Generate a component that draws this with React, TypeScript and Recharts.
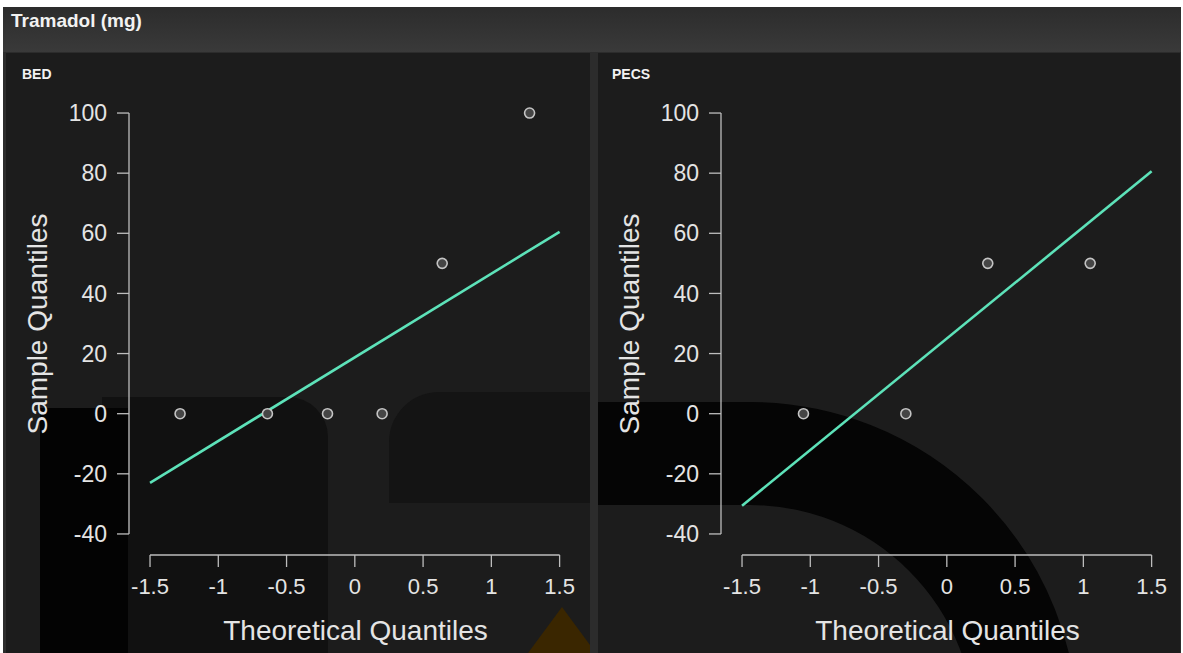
import React from 'react';
import { ComposedChart, Scatter, XAxis, YAxis, ReferenceLine, Label } from 'recharts';

// tick labels
const xTicks = [-1.5, -1, -0.5, 0, 0.5, 1, 1.5];
const yTicks = [-40, -20, 0, 20, 40, 60, 80, 100];

// BED panel
const bedTheoretical = [-1.28, -0.64, -0.2, 0.2, 0.64, 1.28];
const bedSample = [0, 0, 0, 0, 50, 100];
const bedLineX = [-1.5, 1.5];
const bedLineY = [-23, 60.5];

// PECS panel
const pecsTheoretical = [-1.05, -0.3, 0.3, 1.05];
const pecsSample = [0, 0, 50, 50];
const pecsLineX = [-1.5, 1.5];
const pecsLineY = [-30.6, 80.6];

const X_DOMAIN: [number, number] = [-1.654, 1.62];
const Y_DOMAIN: [number, number] = [-47, 105];

const FONT = '"Liberation Sans", Arial, sans-serif';
const TEXT = '#e4e4e4';
const AXIS = '#bdbdbd';
const LINE = '#5de2b9';

const toPoints = (xs: number[], ys: number[]) => xs.map((x, i) => ({ x, y: ys[i] }));

const Dot = (props: any) => (
  <circle cx={props.cx} cy={props.cy} r={5} fill="#454545" stroke="#c4c4c4" strokeWidth={1.6} />
);

function QQChart({ theo, sample, lineX, lineY }: { theo: number[]; sample: number[]; lineX: number[]; lineY: number[] }) {
  const points = toPoints(theo, sample);
  const line = toPoints(lineX, lineY);
  return (
    <ComposedChart width={600} height={653} margin={{ top: 98, right: 24, left: 0, bottom: 0 }}>
      <XAxis
        type="number"
        dataKey="x"
        domain={X_DOMAIN}
        ticks={xTicks}
        allowDataOverflow
        height={98}
        axisLine={false}
        tickLine={{ stroke: AXIS, strokeWidth: 1.3 }}
        tickSize={12}
        tickMargin={11}
        tick={{ fill: TEXT, fontSize: 22, fontFamily: FONT }}
      >
        <Label
          content={() => (
            <text x={355.5} y={640} textAnchor="middle" fill={TEXT} fontSize={28} fontFamily={FONT}>
              Theoretical Quantiles
            </text>
          )}
        />
      </XAxis>
      <YAxis
        type="number"
        dataKey="y"
        domain={Y_DOMAIN}
        ticks={yTicks}
        allowDataOverflow
        width={129}
        axisLine={false}
        tickLine={{ stroke: AXIS, strokeWidth: 1.3 }}
        tickSize={12}
        tickMargin={10}
        tick={{ fill: TEXT, fontSize: 23, fontFamily: FONT }}
      >
        <Label
          content={() => (
            <text
              x={47}
              y={324}
              transform="rotate(-90 47 324)"
              textAnchor="middle"
              fill={TEXT}
              fontSize={28}
              fontFamily={FONT}
            >
              Sample Quantiles
            </text>
          )}
        />
      </YAxis>
      {/* detached R-style axis lines */}
      <ReferenceLine
        segment={[{ x: xTicks[0], y: Y_DOMAIN[0] }, { x: xTicks[xTicks.length - 1], y: Y_DOMAIN[0] }]}
        stroke={AXIS}
        strokeWidth={1.3}
        ifOverflow="visible"
      />
      <ReferenceLine
        segment={[{ x: X_DOMAIN[0], y: yTicks[0] }, { x: X_DOMAIN[0], y: yTicks[yTicks.length - 1] }]}
        stroke={AXIS}
        strokeWidth={1.3}
        ifOverflow="visible"
      />
      <Scatter
        data={line}
        line={{ stroke: LINE, strokeWidth: 2.6 }}
        shape={() => <g />}
        isAnimationActive={false}
      />
      <Scatter data={points} shape={Dot} isAnimationActive={false} />
    </ComposedChart>
  );
}

const abs = (s: React.CSSProperties): React.CSSProperties => ({ position: 'absolute', ...s });

export default function App() {
  return (
    <div style={{ position: 'fixed', left: 0, top: 0, width: 1183, height: 653, background: '#ffffff', overflow: 'hidden', fontFamily: FONT }}>
      {/* header */}
      <div style={abs({ left: 3, top: 7, width: 1178, height: 46, background: 'linear-gradient(#2c2c2c, #3a3a3a)' })} />
      <div style={abs({ left: 11, top: 10, color: '#f2f2f2', fontSize: 19, fontWeight: 'bold' })}>Tramadol (mg)</div>
      <div style={abs({ left: 3, top: 52, width: 1178, height: 601, background: '#2c2c2c' })} />

      {/* BED panel */}
      <div style={abs({ left: 6, top: 53, width: 584, height: 600, background: '#1c1c1c', overflow: 'hidden' })}>
        <div style={abs({ left: 96, top: 344, width: 226, height: 260, background: '#111111', borderTopRightRadius: 40 })} />
        <div style={abs({ left: 34, top: 355, width: 88, height: 250, background: '#030303' })} />
        <div style={abs({ left: 383, top: 339, width: 210, height: 111, background: '#141414', borderTopLeftRadius: 50 })} />
        <div style={abs({ left: 522, top: 554, width: 68, height: 46, background: '#3a2600', clipPath: 'polygon(50% 0, 100% 100%, 0 100%)' })} />
      </div>
      <div style={abs({ left: 22, top: 66, color: '#f2f2f2', fontSize: 14, fontWeight: 'bold' })}>BED</div>

      {/* PECS panel */}
      <div style={abs({ left: 598, top: 53, width: 582, height: 600, background: '#1c1c1c', overflow: 'hidden' })}>
        <div style={abs({ left: 0, top: 349, width: 152, height: 103, background: '#050505' })} />
        <div style={abs({ left: 152, top: 337, width: 440, height: 280, overflow: 'hidden' })}>
          <div
            style={abs({
              left: -328,
              top: 12,
              width: 656,
              height: 656,
              borderRadius: '50%',
              border: '103px solid #050505',
              boxSizing: 'border-box',
            })}
          />
        </div>
      </div>
      <div style={abs({ left: 612, top: 66, color: '#f2f2f2', fontSize: 14, fontWeight: 'bold' })}>PECS</div>

      {/* charts */}
      <div style={abs({ left: 0, top: 0 })}>
        <QQChart theo={bedTheoretical} sample={bedSample} lineX={bedLineX} lineY={bedLineY} />
      </div>
      <div style={abs({ left: 592, top: 0 })}>
        <QQChart theo={pecsTheoretical} sample={pecsSample} lineX={pecsLineX} lineY={pecsLineY} />
      </div>
    </div>
  );
}
